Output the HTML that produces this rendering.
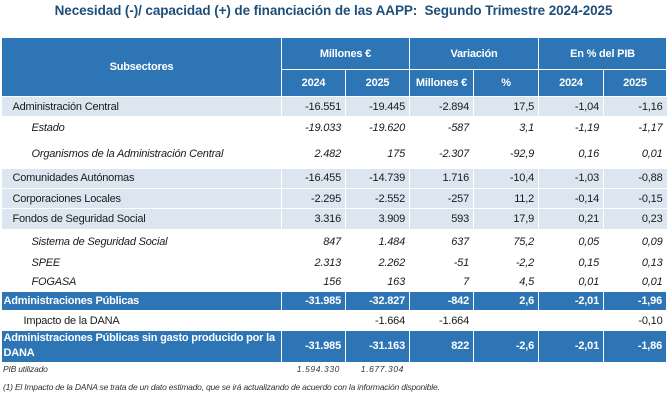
<!DOCTYPE html>
<html><head><meta charset="utf-8"><style>
body{margin:0;width:667px;height:401px;background:#fff;font-family:"Liberation Sans",sans-serif;font-size:11px;color:#1a1a1a;position:relative;overflow:hidden;letter-spacing:-0.2px}
.t{position:absolute;top:3px;left:0;width:667px;text-align:center;font-weight:bold;font-size:13.5px;color:#1F4E79;letter-spacing:-0.1px}
table{position:absolute;left:1px;top:37px;border-collapse:collapse;table-layout:fixed;width:665px}
td{padding:0 4px;white-space:nowrap;overflow:hidden;text-align:right;border-right:1px solid #fff}
td:last-child{border-right:none}
.h td{background:#2E75B6;color:#fff;font-weight:bold;text-align:center;border:1.5px solid #fff}
.s td{background:#DCE6F1;border-bottom:1.5px solid #fff}
.s td:first-child{border-right:1.5px solid #fff}
.i td{font-style:italic}
.i td:first-child{padding-left:30px}
.b td{background:#2E75B6;color:#fff;font-weight:bold;border-right:1.5px solid #fff;border-bottom:1.5px solid #fff}
td.l{text-align:left}
.f{position:absolute;left:3px;font-style:italic;font-size:8.5px;color:#333}
</style></head><body>
<div class="t">Necesidad (-)/ capacidad (+) de financiación de las AAPP:&nbsp; Segundo Trimestre 2024-2025</div>
<table>
<colgroup><col style="width:280px"><col style="width:64px"><col style="width:64px"><col style="width:64px"><col style="width:65px"><col style="width:65px"><col style="width:63px"></colgroup>
<tr class="h" style="height:32px"><td rowspan="2">Subsectores</td><td colspan="2">Millones €</td><td colspan="2">Variación</td><td colspan="2">En % del PIB</td></tr>
<tr class="h" style="height:27px"><td>2024</td><td>2025</td><td>Millones €</td><td>%</td><td>2024</td><td>2025</td></tr>
<tr class="s" style="height:20px"><td class="l" style="padding-left:11px">Administración Central</td><td>-16.551</td><td>-19.445</td><td>-2.894</td><td>17,5</td><td>-1,04</td><td>-1,16</td></tr>
<tr class="i" style="height:23px"><td class="l">Estado</td><td>-19.033</td><td>-19.620</td><td>-587</td><td>3,1</td><td>-1,19</td><td>-1,17</td></tr>
<tr class="i" style="height:29px"><td class="l">Organismos de la Administración Central</td><td>2.482</td><td>175</td><td>-2.307</td><td>-92,9</td><td>0,16</td><td>0,01</td></tr>
<tr class="s" style="height:20px"><td class="l" style="padding-left:11px">Comunidades Autónomas</td><td>-16.455</td><td>-14.739</td><td>1.716</td><td>-10,4</td><td>-1,03</td><td>-0,88</td></tr>
<tr class="s" style="height:20px"><td class="l" style="padding-left:11px">Corporaciones Locales</td><td>-2.295</td><td>-2.552</td><td>-257</td><td>11,2</td><td>-0,14</td><td>-0,15</td></tr>
<tr class="s" style="height:21px"><td class="l" style="padding-left:11px">Fondos de Seguridad Social</td><td>3.316</td><td>3.909</td><td>593</td><td>17,9</td><td>0,21</td><td>0,23</td></tr>
<tr class="i" style="height:24px"><td class="l">Sistema de Seguridad Social</td><td>847</td><td>1.484</td><td>637</td><td>75,2</td><td>0,05</td><td>0,09</td></tr>
<tr class="i" style="height:19px"><td class="l">SPEE</td><td>2.313</td><td>2.262</td><td>-51</td><td>-2,2</td><td>0,15</td><td>0,13</td></tr>
<tr class="i" style="height:19px"><td class="l">FOGASA</td><td>156</td><td>163</td><td>7</td><td>4,5</td><td>0,01</td><td>0,01</td></tr>
<tr class="b" style="height:19px"><td class="l" style="padding-left:2px">Administraciones Públicas</td><td>-31.985</td><td>-32.827</td><td>-842</td><td>2,6</td><td>-2,01</td><td>-1,96</td></tr>
<tr style="height:20px"><td class="l" style="padding-left:22px">Impacto de la DANA</td><td></td><td>-1.664</td><td>-1.664</td><td></td><td></td><td>-0,10</td></tr>
<tr class="b" style="height:32px"><td class="l" style="padding-left:2px;white-space:normal;line-height:15px">Administraciones Públicas sin gasto producido por la DANA</td><td>-31.985</td><td>-31.163</td><td>822</td><td>-2,6</td><td>-2,01</td><td>-1,86</td></tr>
</table>
<div class="f" style="top:364px">PIB utilizado</div>
<div class="f" style="top:364px;left:282px;width:58px;text-align:right;letter-spacing:0.6px">1.594.330</div>
<div class="f" style="top:364px;left:346px;width:58px;text-align:right;letter-spacing:0.6px">1.677.304</div>
<div class="f" style="top:382px">(1) El Impacto de la DANA se trata de un dato estimado, que se irá actualizando de acuerdo con la información disponible.</div>
</body></html>
